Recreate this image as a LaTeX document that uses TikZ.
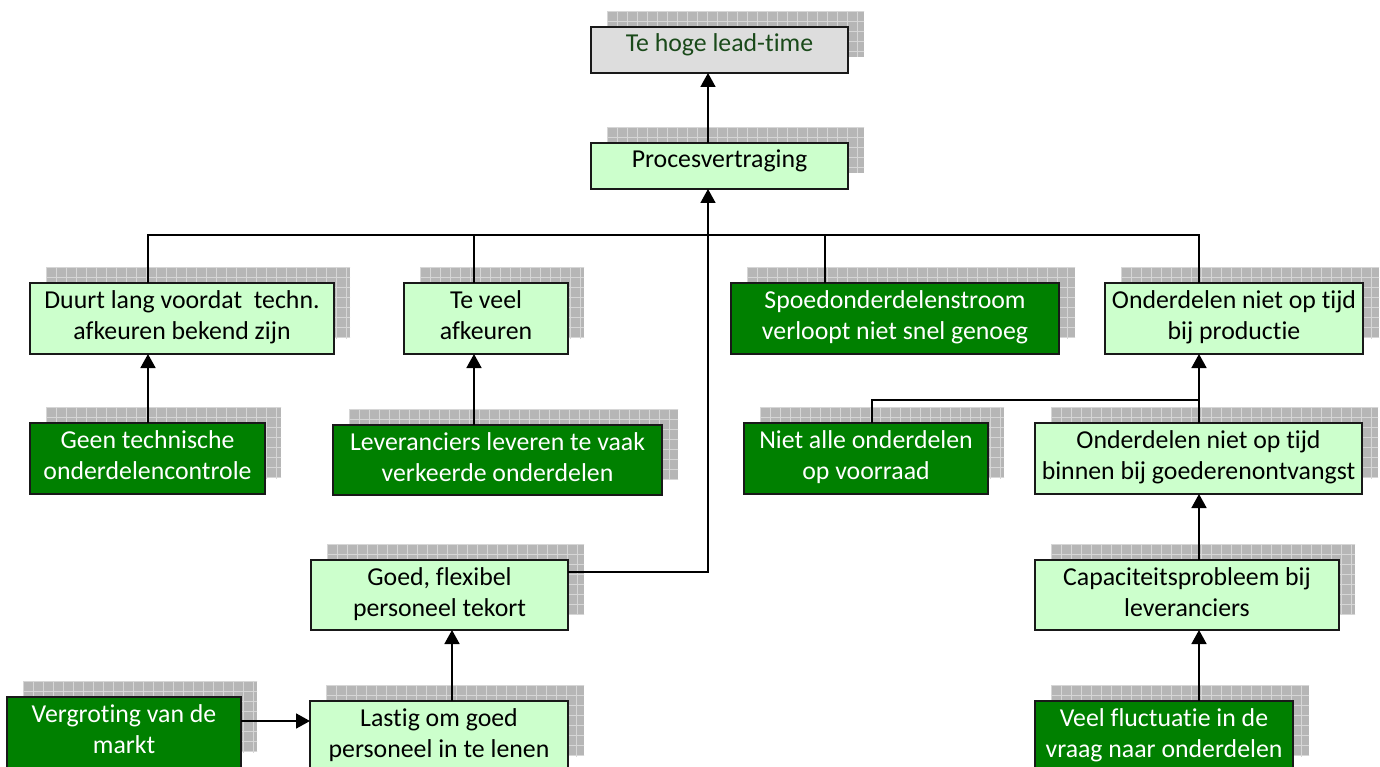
\documentclass[tikz,border=0pt]{standalone}
\usepackage{fontspec}
\setmainfont{Carlito}[Ligatures=NoCommon]
\usetikzlibrary{arrows.meta}
\definecolor{lgreen}{RGB}{204,255,204}
\definecolor{dgreen}{RGB}{0,128,0}
\definecolor{lgray}{RGB}{221,221,221}
\definecolor{txtgreen}{RGB}{26,74,26}
\definecolor{shbase}{RGB}{182,182,182}
\definecolor{shline}{RGB}{214,214,214}
\definecolor{bord}{RGB}{25,25,25}
\newcommand\shbox[7]{%
  \begin{scope}
    \clip (#2+16,#3-16) rectangle (#4+16,#5-16);
    \fill[shbase] (#2+16,#3-16) rectangle (#4+16,#5-16);
    \draw[shline,line width=0.9pt,step=10pt,shift={(#2+16,#3-16)}] (0,0) grid (#4-#2+10,#5-#3+10);
  \end{scope}
  \node[#6] (#1) at ({(#2+#4)/2},{(#3+#5)/2})
   {\parbox[c][\dimexpr#5pt-#3pt\relax][t]{\dimexpr#4pt-#2pt\relax}{\centering\rule{0pt}{25pt}#7}};
}
\tikzset{
  basebox/.style={draw=bord, line width=2pt, inner sep=0pt, outer sep=0pt,
                  font=\fontsize{25.8}{31}\selectfont},
  lbox/.style={basebox, fill=lgreen, text=black},
  dbox/.style={basebox, fill=dgreen, text=white},
  gbox/.style={basebox, fill=lgray, text=txtgreen},
  conn/.style={line width=1.7pt, draw=black},
  arr/.style={conn, -{Triangle[width=15pt,length=14pt]}}
}
\begin{document}
\begin{tikzpicture}[x=1pt,y=-1pt]
\useasboundingbox (0,0) rectangle (1380,767);
\fill[white] (0,0) rectangle (1380,767);
\clip (0,0) rectangle (1380,767);

\shbox{lead}{591}{27}{848}{73}{gbox}{Te hoge lead-time}
\shbox{proc}{591}{143}{848}{189}{lbox}{Procesvertraging}
\shbox{duurt}{30}{283}{334}{354}{lbox}{Duurt lang voordat\ \ techn.\\afkeuren bekend zijn}
\shbox{teveel}{404}{283}{568}{354}{lbox}{Te veel\\afkeuren}
\shbox{spoed}{731}{283}{1059}{354}{dbox}{Spoedonderdelenstroom\\verloopt niet snel genoeg}
\shbox{prod}{1105}{283}{1363}{354}{lbox}{Onderdelen niet op tijd\\bij productie}
\shbox{geen}{30}{423}{265}{494}{dbox}{Geen technische\\onderdelencontrole}
\shbox{lev}{333}{425}{662}{495}{dbox}{Leveranciers leveren te vaak\\verkeerde onderdelen}
\shbox{niet}{744}{423}{988}{494}{dbox}{Niet alle onderdelen\\op voorraad}
\shbox{binnen}{1035}{423}{1362}{494}{lbox}{Onderdelen niet op tijd\\binnen bij goederenontvangst}
\shbox{goed}{311}{560}{568}{630}{lbox}{Goed, flexibel\\personeel tekort}
\shbox{cap}{1035}{560}{1339}{630}{lbox}{Capaciteitsprobleem bij\\leveranciers}
\shbox{verg}{7}{697}{241}{768}{dbox}{Vergroting van de\\markt}
\shbox{lastig}{310}{701}{568}{772}{lbox}{Lastig om goed\\personeel in te lenen}
\shbox{veel}{1035}{701}{1293}{772}{dbox}{Veel fluctuatie in de\\vraag naar onderdelen}

\coordinate (xA) at (148,0);
\coordinate (xB) at (474,0);
\coordinate (xC) at (825,0);
\coordinate (xD) at (1199,0);
\coordinate (xE) at (708,0);
\coordinate (xF) at (872,0);
\coordinate (xG) at (452,0);
\coordinate (bus) at (0,235);
\coordinate (yG) at (0,572);
\coordinate (yN) at (0,400);
\coordinate (yV) at (0,721);

\draw[arr] (proc.north -| xE) -- (lead.south -| xE);
\draw[arr] (goed.east |- yG) -| (proc.south -| xE);
\draw[conn] (duurt.north -| xA) -- (bus -| xA) -- (bus -| xD) -- (prod.north -| xD);
\draw[conn] (teveel.north -| xB) -- (bus -| xB);
\draw[conn] (spoed.north -| xC) -- (bus -| xC);
\draw[arr] (geen.north -| xA) -- (duurt.south -| xA);
\draw[arr] (lev.north -| xB) -- (teveel.south -| xB);
\draw[arr] (binnen.north -| xD) -- (prod.south -| xD);
\draw[conn] (niet.north -| xF) |- (yN -| xD);
\draw[arr] (cap.north -| xD) -- (binnen.south -| xD);
\draw[arr] (veel.north -| xD) -- (cap.south -| xD);
\draw[arr] (lastig.north -| xG) -- (goed.south -| xG);
\draw[arr] (verg.east |- yV) -- (lastig.west |- yV);
\end{tikzpicture}
\end{document}
